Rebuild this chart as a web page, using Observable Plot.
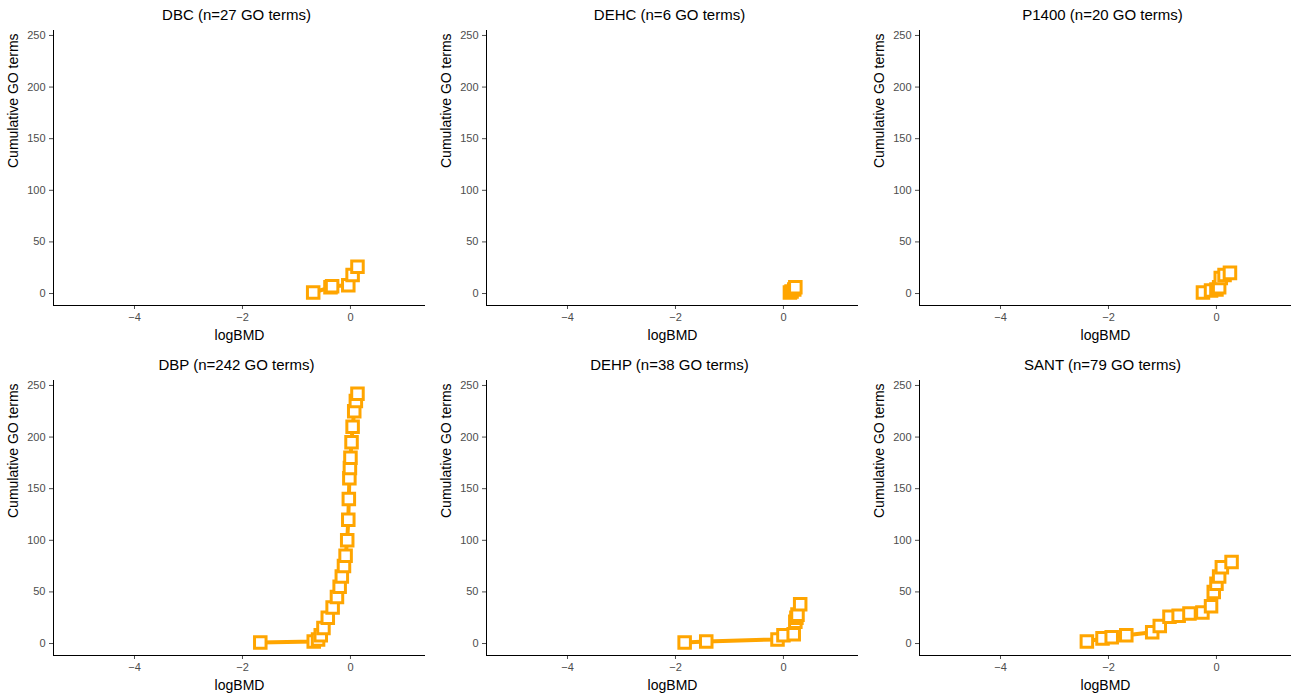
<!DOCTYPE html>
<html><head><meta charset="utf-8">
<script src="https://cdn.jsdelivr.net/npm/d3@7"></script>
<script src="https://cdn.jsdelivr.net/npm/@observablehq/plot@0.6"></script>
<style>
body{margin:0;background:#fff;font-family:"Liberation Sans",Arial,sans-serif;}
#grid{display:grid;grid-template-columns:433px 433px 433px;width:1300px;}
.panel{width:433px;height:350px;}
.title{height:25px;line-height:30px;text-align:center;font-size:15px;color:#000;padding-left:40px;box-sizing:border-box;}
</style></head><body>
<div id="grid"></div>
<script>
const titles = ["DBC (n=27 GO terms)", "DEHC (n=6 GO terms)", "P1400 (n=20 GO terms)",
  "DBP (n=242 GO terms)", "DEHP (n=38 GO terms)", "SANT (n=79 GO terms)"];
const dbcX = [-0.69, -0.37, -0.34, -0.04, 0.04, 0.13];
const dbcY = [1, 6, 7, 8, 18, 26];
const dehcX = [0.12, 0.15, 0.2, 0.22];
const dehcY = [1, 2, 4, 6];
const p1400X = [-0.25, -0.1, 0, 0.05, 0.08, 0.15, 0.25];
const p1400Y = [1, 3, 4, 6, 15, 18, 20];
const dbpX = [-1.67, -0.68, -0.6, -0.55, -0.5, -0.42, -0.33, -0.25, -0.2, -0.16, -0.12, -0.09, -0.06, -0.04, -0.03, -0.02, -0.01, 0, 0.02, 0.04, 0.07, 0.1, 0.13];
const dbpY = [1, 2, 4, 8, 15, 25, 35, 45, 55, 65, 75, 85, 100, 120, 140, 160, 170, 180, 195, 210, 225, 235, 242];
const dehpX = [-1.83, -1.43, -0.11, 0, 0.19, 0.22, 0.24, 0.26, 0.31];
const dehpY = [1, 2, 4, 8, 9, 21, 25, 28, 38];
const santX = [-2.4, -2.11, -1.94, -1.67, -1.19, -1.05, -0.87, -0.7, -0.5, -0.26, -0.1, -0.05, 0, 0.05, 0.1, 0.28];
const santY = [2, 5, 6, 8, 11, 17, 26, 27, 29, 30, 36, 50, 58, 65, 74, 79];
const xs = [dbcX, dehcX, p1400X, dbpX, dehpX, santX];
const ys = [dbcY, dehcY, p1400Y, dbpY, dehpY, santY];

const orange = "#FFA500";
titles.forEach((t, i) => {
  const data = xs[i].map((x, j) => ({x, y: ys[i][j]}));
  const div = d3.select("#grid").append("div").attr("class", "panel");
  div.append("div").attr("class", "title").text(t);
  const chart = Plot.plot({
    width: 433, height: 325,
    marginTop: 5, marginBottom: 45, marginLeft: 53, marginRight: 8,
    style: {fontFamily: "Liberation Sans, Arial, sans-serif", fontSize: "11px", color: "#4d4d4d"},
    x: {domain: [-5.5, 1.39], label: null},
    y: {domain: [-11.6, 254.8], label: null},
    marks: [
      Plot.axisX({ticks: [-4, -2, 0], tickFormat: d3.format("d"), tickSize: 4, tickPadding: 4, fontSize: 11}),
      Plot.axisY({ticks: [0, 50, 100, 150, 200, 250], tickFormat: d3.format("d"), tickSize: 4, tickPadding: 4, fontSize: 11}),
      Plot.ruleX([-5.5], {stroke: "#000"}),
      Plot.ruleY([-11.6], {stroke: "#000"}),
      Plot.line(data, {x: "x", y: "y", stroke: orange, strokeWidth: 4}),
      Plot.dot(data, {x: "x", y: "y", symbol: "square", r: 6.5, stroke: orange, strokeWidth: 3, fill: "white"}),
      Plot.text(["logBMD"], {frameAnchor: "bottom", dy: 34, fontSize: 14, fill: "#000"}),
      Plot.text(["Cumulative GO terms"], {frameAnchor: "left", dx: -40, rotate: -90, fontSize: 14, fill: "#000"})
    ]
  });
  div.append(() => chart);
});
</script></body></html>
